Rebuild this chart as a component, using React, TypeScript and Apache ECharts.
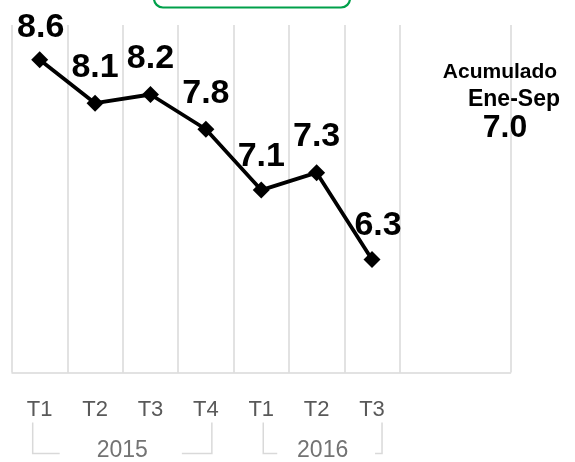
import React, { useEffect, useRef } from "react";
import * as echarts from "echarts";

const CATEGORIES = ["T1", "T2", "T3", "T4", "T1", "T2", "T3", "", ""];
const VALUES = [8.6, 8.1, 8.2, 7.8, 7.1, 7.3, 6.3];
const YEAR_LABELS = ["2015", "2016"];
const YEAR_FIRST = [0, 4];
const YEAR_LAST = [3, 6];
const SIDE_TITLE = ["Acumulado", "Ene-Sep"];
const SIDE_VALUE = "7.0";

const FONT = '"Liberation Sans", Arial, sans-serif';
const GRID_COLOR = "#d9d9d9";

// bracket styling per year group: [leftPad, rightPad, leftSegment, rightSegment]
const BRACKET_STYLE = [
  [-7, 6, 27, 30],
  [2, 10, 14, 7],
];

export default function App() {
  const ref = useRef<HTMLDivElement>(null);

  useEffect(() => {
    if (!ref.current) return;
    const chart = echarts.init(ref.current, undefined, { renderer: "svg" });
    const labelShift: Record<number, number[]> = { 0: [1, 4], 4: [0, 2], 6: [6, 2] };
    chart.setOption({
      animation: false,
      grid: { left: 12, right: 64.5, top: 25, bottom: 89.5 },
      xAxis: {
        type: "category",
        data: CATEGORIES,
        boundaryGap: true,
        axisLine: { show: true, lineStyle: { color: GRID_COLOR, width: 1.5 } },
        axisTick: { show: false },
        axisLabel: {
          color: "#595959",
          fontSize: 22,
          fontFamily: FONT,
          margin: 25,
          interval: 0,
        },
        splitLine: {
          show: true,
          interval: (index: number) => index !== 8,
          lineStyle: { color: GRID_COLOR, width: 1.5 },
        },
      },
      yAxis: {
        type: "value",
        min: 5,
        max: 9,
        show: false,
        splitLine: { show: false },
      },
      series: [
        {
          type: "line",
          data: VALUES.map((v, i) =>
            labelShift[i] ? { value: v, label: { offset: labelShift[i] } } : v
          ),
          symbol: "diamond",
          symbolSize: 17,
          itemStyle: { color: "#000" },
          lineStyle: { color: "#000", width: 3.8 },
          label: {
            show: true,
            position: "top",
            distance: 13,
            color: "#000",
            fontSize: 34,
            fontWeight: "bold",
            fontFamily: FONT,
            formatter: (p: any) => Number(p.value).toFixed(1),
          },
        },
      ],
    });

    const cx = (i: number) => chart.convertToPixel({ xAxisIndex: 0 }, i) as number;
    const graphics: any[] = [];
    const yTop = 422.5;
    const yBot = 453.5;
    YEAR_LABELS.forEach((label, g) => {
      const [lp, rp, ls, rs] = BRACKET_STYLE[g];
      const left = cx(YEAR_FIRST[g]) + lp;
      const right = cx(YEAR_LAST[g]) + rp;
      const mid = (left + right) / 2;
      const lineStyle = { stroke: GRID_COLOR, lineWidth: 1.5, fill: "none" };
      graphics.push({
        type: "polyline",
        shape: { points: [[left, yTop], [left, yBot], [left + ls, yBot]] },
        style: lineStyle,
      });
      graphics.push({
        type: "polyline",
        shape: { points: [[right - rs, yBot], [right, yBot], [right, yTop]] },
        style: lineStyle,
      });
      graphics.push({
        type: "text",
        style: {
          text: label,
          x: mid,
          y: 449,
          align: "center",
          verticalAlign: "middle",
          fontSize: 23,
          fontFamily: FONT,
          fill: "#737373",
        },
      });
    });

    graphics.push({
      type: "text",
      style: {
        text: SIDE_TITLE[0],
        x: 500,
        y: 70,
        align: "center",
        verticalAlign: "middle",
        fontSize: 21,
        fontWeight: "bold",
        fontFamily: FONT,
        fill: "#000",
      },
    });
    graphics.push({
      type: "text",
      style: {
        text: SIDE_TITLE[1],
        x: 514,
        y: 98,
        align: "center",
        verticalAlign: "middle",
        fontSize: 23,
        fontWeight: "bold",
        fontFamily: FONT,
        fill: "#000",
      },
    });
    graphics.push({
      type: "text",
      style: {
        text: SIDE_VALUE,
        x: 505,
        y: 126,
        align: "center",
        verticalAlign: "middle",
        fontSize: 32,
        fontWeight: "bold",
        fontFamily: FONT,
        fill: "#000",
      },
    });
    graphics.push({
      type: "rect",
      shape: { x: 154, y: -20, width: 196, height: 27.5, r: 9 },
      style: { fill: "none", stroke: "#00a04a", lineWidth: 2.2 },
    });

    chart.setOption({ graphic: graphics });

    return () => chart.dispose();
  }, []);

  return (
    <div
      ref={ref}
      style={{ position: "fixed", left: 0, top: 0, width: 575, height: 462 }}
    />
  );
}
